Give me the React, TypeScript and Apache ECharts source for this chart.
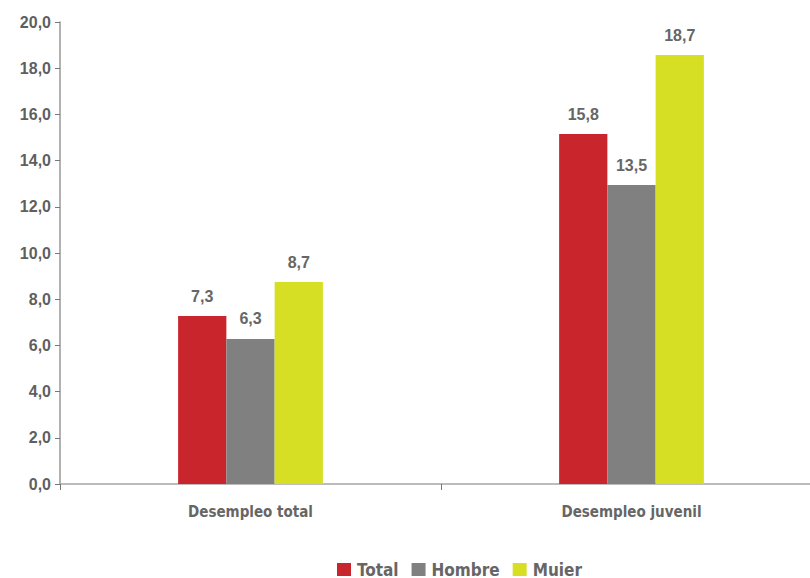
import React, { useEffect, useRef } from "react";
import * as echarts from "echarts";

const categories = ["Desempleo total", "Desempleo juvenil"];
const seriesNames = ["Total", "Hombre", "Muier"];
const totalValues = [7.27, 15.15];
const hombreValues = [6.28, 12.94];
const mujerValues = [8.74, 18.57];
const totalLabels = ["7,3", "15,8"];
const hombreLabels = ["6,3", "13,5"];
const mujerLabels = ["8,7", "18,7"];
const colors = ["#C9252C", "#808080", "#D6DF23"];

const narrow = "'Liberation Sans Narrow', 'DejaVu Sans Condensed', 'Liberation Sans', Arial, sans-serif";
const sans = "'Liberation Sans', Arial, Helvetica, sans-serif";

export default function App() {
  const ref = useRef<HTMLDivElement>(null);
  useEffect(() => {
    if (!ref.current) return;
    const chart = echarts.init(ref.current, undefined, { renderer: "svg" });
    const values = [totalValues, hombreValues, mujerValues];
    const labels = [totalLabels, hombreLabels, mujerLabels];
    chart.setOption({
      animation: false,
      grid: { left: 60, right: 0, top: 22, bottom: 94, containLabel: false },
      legend: {
        top: 561,
        left: 337,
        padding: 0,
        itemWidth: 14,
        itemHeight: 13,
        itemGap: 13,
        icon: "rect",
        textStyle: {
          color: "#666",
          fontSize: 17,
          lineHeight: 16,
          fontWeight: "bold",
          fontFamily: narrow,
          padding: [0, 0, 0, 1],
        },
        data: seriesNames,
      },
      xAxis: {
        type: "category",
        data: categories,
        axisLine: { lineStyle: { color: "#a6a6a6", width: 1.5 } },
        axisTick: { show: true, length: 6, lineStyle: { color: "#777" } },
        axisLabel: { color: "#666", fontSize: 15, fontWeight: "bold", fontFamily: narrow, margin: 20 },
      },
      yAxis: {
        type: "value",
        min: 0,
        max: 20,
        interval: 2,
        axisLine: { show: true, lineStyle: { color: "#999", width: 1.5 } },
        axisTick: { show: true, length: 5, lineStyle: { color: "#777" } },
        splitLine: { show: false },
        axisLabel: {
          color: "#5f5f5f",
          fontSize: 16,
          fontWeight: "bold",
          fontFamily: sans,
          margin: 9,
          formatter: (v: number) => v.toFixed(1).replace(".", ","),
        },
      },
      series: seriesNames.map((name, i) => ({
        name,
        type: "bar",
        data: values[i],
        barGap: "0%",
        barCategoryGap: "62%",
        itemStyle: { color: colors[i] },
        label: {
          show: true,
          position: "top",
          distance: 12,
          color: "#666",
          fontSize: 16,
          fontWeight: "bold",
          fontFamily: sans,
          formatter: (p: any) => labels[i][p.dataIndex],
        },
      })),
    });
    return () => chart.dispose();
  }, []);
  return (
    <div style={{ position: "absolute", left: 0, top: 0, width: 810, height: 578, overflow: "hidden" }}>
      <div ref={ref} style={{ width: 822, height: 578 }} />
    </div>
  );
}
